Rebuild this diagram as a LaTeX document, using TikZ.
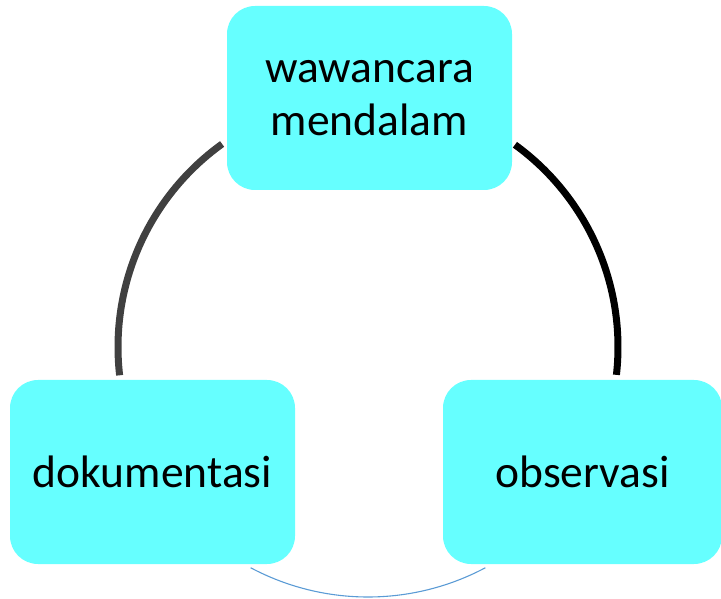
\documentclass[tikz,border=0pt]{standalone}
\usepackage{fontspec}
\setmainfont{Carlito}
\definecolor{stagecyan}{HTML}{66FFFF}
\definecolor{ringgray}{HTML}{404040}
\definecolor{ringblue}{HTML}{5B9BD5}
\begin{document}
\begin{tikzpicture}[x=1pt, y=1pt,
    stage/.style={fill=stagecyan, rounded corners=28pt, minimum width=285pt,
        minimum height=184pt, align=center, inner sep=0pt,
        font=\fontsize{45.5}{53}\selectfont}]
        \useasboundingbox (0,0) rectangle (721,598);

        \node[stage] (wawancara) at (369.5,500) {wawancara\\mendalam};
        \node[stage] (dokumentasi) at (152.5,126) {dokumentasi};
        \node[stage, minimum width=279pt] (observasi) at (582.5,126) {observasi};

        % ring round the three stages
        \coordinate (ring) at (368,251);
        \draw[line width=7pt, color=ringgray]  ([shift={(125.7:250pt)}]ring) arc[start angle=125.7, end angle=186.5, radius=250pt];
        \draw[line width=7pt, color=black]     ([shift={(54:250pt)}]ring) arc[start angle=54, end angle=-6.4, radius=250pt];
        \draw[line width=1.1pt, color=ringblue] ([shift={(242:250pt)}]ring) arc[start angle=242, end angle=298, radius=250pt];

    \end{tikzpicture}
\end{document}
